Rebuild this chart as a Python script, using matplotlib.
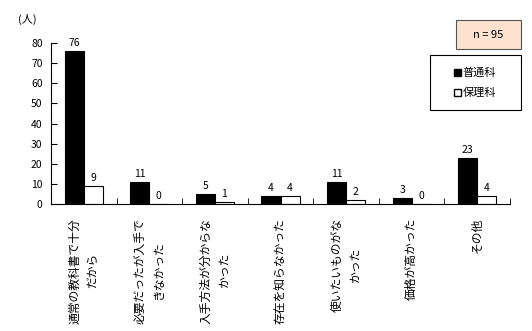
import numpy as np
import matplotlib.pyplot as plt
from matplotlib.patches import Patch, Rectangle

plt.rcParams['font.family'] = ['Noto Sans CJK JP', 'DejaVu Sans']

categories = ['通常の教科書で十分\nだから', '必要だったが入手で\nきなかった', '入手方法が分からな\nかった',
              '存在を知らなかった', '使いたいものがな\nかった', '価格が高かった', 'その他']
futsuka = [76, 11, 5, 4, 11, 3, 23]
horika = [9, 0, 1, 4, 2, 0, 4]
yticks = [0, 10, 20, 30, 40, 50, 60, 70, 80]

fig = plt.figure(figsize=(5.32, 3.31), dpi=100)
ax = fig.add_axes([51/532, 1 - 204/331, 459/532, 161/331])

x = np.arange(len(categories))
w = 0.29
ax.bar(x - w/2, futsuka, w, color='black', edgecolor='black', linewidth=0.8)
ax.bar(x + w/2, horika, w, color='white', edgecolor='black', linewidth=0.8)

for i in range(len(categories)):
    ax.text(x[i] - w/2, futsuka[i] + 1.5, str(futsuka[i]), ha='center', va='bottom', fontsize=7.5)
    ax.text(x[i] + w/2, horika[i] + 1.5, str(horika[i]), ha='center', va='bottom', fontsize=7.5)

ax.set_xlim(-0.5, len(categories) - 0.5)
ax.set_ylim(0, 80)
ax.set_yticks(yticks)
ax.tick_params(axis='y', direction='in', length=4, labelsize=7.5, pad=6)
ax.set_xticks(x)
ax.set_xticklabels(categories, rotation=90, va='top', ha='center', multialignment='center',
                   fontsize=8.5, linespacing=1.5)
ax.tick_params(axis='x', which='major', length=0, pad=10)
ax.set_xticks(np.arange(-0.5, len(categories)), minor=True)
ax.tick_params(axis='x', which='minor', direction='in', length=4)
ax.spines['top'].set_visible(False)
ax.spines['right'].set_visible(False)

fig.text(18/532, 1 - 19/331, '(人)', fontsize=8, va='center', ha='left')

# n box
fig.patches.append(Rectangle((456/532, 1 - 49/331), 65/532, 29/331, transform=fig.transFigure,
                             facecolor='#FDE2D0', edgecolor='#555555', linewidth=0.8))
fig.text(488.5/532, 1 - 34.5/331, 'n = 95', fontsize=8, ha='center', va='center')

# legend box
fig.patches.append(Rectangle((430/532, 1 - 110/331), 91/532, 55/331, transform=fig.transFigure,
                             facecolor='white', edgecolor='black', linewidth=0.8))
handles = [Patch(facecolor='black', edgecolor='black'), Patch(facecolor='white', edgecolor='black')]
fig.legend(handles, ['普通科', '保理科'], loc='center', bbox_to_anchor=(475/532, 1 - 83/331),
           fontsize=8, handlelength=0.6, handleheight=0.6, handletextpad=0.2, labelspacing=0.9,
           frameon=False, borderpad=0, borderaxespad=0)

fig.savefig('out.png', dpi=100)
